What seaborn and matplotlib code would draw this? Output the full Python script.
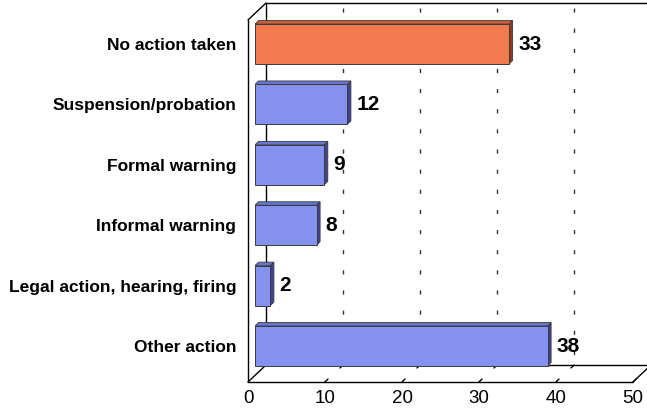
import matplotlib
matplotlib.use("Agg")
import matplotlib.pyplot as plt
import seaborn as sns
import pandas as pd
from matplotlib.patches import Polygon
from matplotlib.lines import Line2D

categories = ["No action taken", "Suspension/probation", "Formal warning",
              "Informal warning", "Legal action, hearing, firing", "Other action"]
values = [33, 12, 9, 8, 2, 38]
x_ticks = [0, 10, 20, 30, 40, 50]

front_colors = ["#F47A50", "#8491EE", "#8491EE", "#8491EE", "#8491EE", "#8491EE"]
side_colors = ["#8E3A1C", "#3C4493", "#3C4493", "#3C4493", "#3C4493", "#3C4493"]
top_colors = ["#C85E3A", "#6674D2", "#6674D2", "#6674D2", "#6674D2", "#6674D2"]

sns.set_style("white")
plt.rcParams['font.family'] = ['Liberation Sans', 'DejaVu Sans']
plt.rcParams['text.color'] = 'black'
plt.rcParams['ytick.color'] = 'black'
plt.rcParams['xtick.color'] = 'black'

W, H = 647, 412
fig = plt.figure(figsize=(W / 100, H / 100), dpi=100)
# axes: x data 0 at pixel 255, 7.7 px per unit; y category i at pixel 44 + 60.4 i
PX = 7.7
PY = 60.4
x0p, y0p = 255, 44
ax = fig.add_axes([x0p / W, (H - 382) / H, 50 * PX / W, (382 - 3) / H])

df = pd.DataFrame({"cat": categories, "val": values})
sns.barplot(data=df, x="val", y="cat", hue="cat", palette=front_colors,
            legend=False, width=0.66, saturation=1, ax=ax,
            edgecolor="#3a3a3a", linewidth=0.7, zorder=5)
ax.set_xlim(0, 50)
ax.set_ylim((382 - y0p) / PY, (3 - y0p) / PY)
for s in ax.spines.values():
    s.set_visible(False)
ax.set_xlabel("")
ax.set_ylabel("")
ax.set_xticks([])
ax.tick_params(axis="y", length=0, pad=13.5, labelcolor="black")
for lab in ax.get_yticklabels():
    lab.set_fontweight("bold")
    lab.set_color("black")
    lab.set_fontsize(12.5)


def dx(px):
    return (px - x0p) / PX


def dy(py):
    return (py - y0p) / PY


# box geometry (pixels)
front_x, back_x = 248, 266
floor_front_y, floor_back_y = 382, 365
wall_top_back, wall_top_front = 3, 20
kw = dict(color="black", lw=1.0, clip_on=False, zorder=1)

# left wall
ax.add_line(Line2D([dx(front_x), dx(front_x)], [dy(wall_top_front), dy(floor_front_y)], **kw))
ax.add_line(Line2D([dx(front_x), dx(back_x)], [dy(wall_top_front), dy(wall_top_back)], **kw))
ax.add_line(Line2D([dx(back_x), dx(back_x)], [dy(wall_top_back), dy(floor_back_y)], **kw))
# back wall top
ax.add_line(Line2D([dx(back_x), dx(660)], [dy(wall_top_back), dy(wall_top_back)], **kw))
# floor
ax.add_line(Line2D([dx(front_x), dx(front_x + 50 * PX)], [dy(floor_front_y), dy(floor_front_y)], **kw))
ax.add_line(Line2D([dx(back_x), dx(660)], [dy(floor_back_y), dy(floor_back_y)], **kw))
ax.add_line(Line2D([dx(front_x), dx(back_x)], [dy(floor_front_y), dy(floor_back_y)], **kw))
ax.add_line(Line2D([dx(front_x + 50 * PX), dx(back_x + 50 * PX)],
                   [dy(floor_front_y), dy(floor_back_y)], **kw))

off_back = (back_x - x0p) / PX
off_front = (front_x - x0p) / PX
for v in x_ticks[1:-1]:
    ax.add_line(Line2D([v + off_back, v + off_back], [dy(wall_top_back + 5), dy(floor_back_y)],
                       color="#333333", lw=1.0, linestyle=(0, (3, 11.5)), clip_on=False, zorder=1))
for v in x_ticks[1:]:
    xf = v + off_front
    ax.add_line(Line2D([xf, xf + 3 / PX], [dy(floor_front_y), dy(floor_front_y - 3)],
                       color="black", lw=1.0, clip_on=False, zorder=1))
    xb = v + off_back
    ax.add_line(Line2D([xb, xb - 3 / PX], [dy(floor_back_y), dy(floor_back_y + 3)],
                       color="black", lw=1.0, clip_on=False, zorder=1))
for v in x_ticks:
    ax.text(v + off_front, dy(398), str(v), ha="center", va="center",
            fontsize=13.5, color="black", clip_on=False)

# pseudo-3D faces and value labels
ddx = 3.5 / PX
ddy = -3.5 / PY
for i, p in enumerate(ax.patches):
    bx, by, bw, bh = p.get_x(), p.get_y(), p.get_width(), p.get_height()
    ytop, ybot = by, by + bh
    xr = bx + bw
    top = Polygon([(bx, ytop), (xr, ytop), (xr + ddx, ytop + ddy), (bx + ddx, ytop + ddy)],
                  closed=True, facecolor=top_colors[i], edgecolor="#3a3a3a", lw=0.6, zorder=4)
    side = Polygon([(xr, ytop), (xr + ddx, ytop + ddy), (xr + ddx, ybot + ddy), (xr, ybot)],
                   closed=True, facecolor=side_colors[i], edgecolor="#3a3a3a", lw=0.6, zorder=4)
    ax.add_patch(top)
    ax.add_patch(side)
    ax.text(xr + 9 / PX, by + bh / 2, str(values[i]), ha="left", va="center",
            fontsize=15, fontweight="bold", color="black", clip_on=False, zorder=6)

fig.savefig("out.png", dpi=100)
